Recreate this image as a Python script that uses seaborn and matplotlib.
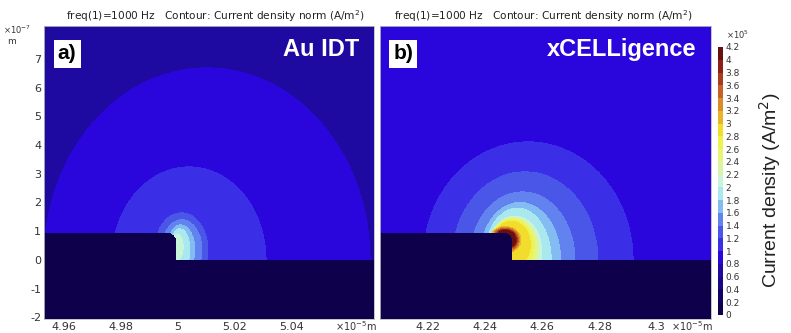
import numpy as np
import matplotlib
matplotlib.use("Agg")
import matplotlib.pyplot as plt
from matplotlib.colors import ListedColormap
import seaborn as sns

sns.set_theme(style="white")
plt.rcParams['font.family'] = ['DejaVu Sans']

# contour levels, current density norm in 1e5 A/m^2
levels = np.round(np.arange(0, 4.21, 0.2), 1)
band_colors = ['#0f004c', '#140064', '#190882', '#1e0aa0', '#2a06dc', '#3a2ee6',
               '#4a56e8', '#6282f0', '#82bcf2', '#aae8f0', '#c8f4d8', '#d8f4a8',
               '#e6f478', '#eef24c', '#f2dc2c', '#eab428', '#da8c28', '#c46028',
               '#aa3a20', '#8c2018', '#661010']

# panel a: Au IDT, contour boundaries (lengths in 1e-7 m)
a_bg = 0.7
a_level = [0.8, 1.0, 1.2, 1.4, 1.6, 1.8, 2.0]
a_cx = [501.02, 500.39, 500.12, 500.14, 500.10, 500.07, 499.98]
a_cy = [0.0, 0.0, 0.35, 0.35, 0.35, 0.35, 0.45]
a_rx = [5.72, 2.70, 0.93, 0.70, 0.49, 0.35, 0.20]
a_ry = [6.69, 3.24, 1.29, 1.05, 0.87, 0.73, 0.45]
a_edge = 499.95
a_xlim = (495.30, 506.88)
a_xticks = [496, 498, 500, 502, 504]

# panel b: xCELLigence
b_bg = 0.9
b_level = [1.0, 1.2, 1.4, 1.6, 1.8, 2.0, 2.2, 2.4, 2.6, 2.8, 3.0, 3.2, 3.4, 3.6, 3.8, 4.0]
b_cx = [425.50, 425.39, 425.30, 425.22, 425.13, 425.04, 425.00, 424.97, 424.94, 424.92,
        424.70, 424.70, 424.70, 424.70, 424.70, 424.70]
b_cy = [0.0, 0.0, 0.0, 0.0, 0.0, 0.30, 0.36, 0.42, 0.48, 0.54, 0.70, 0.70, 0.70, 0.70, 0.70, 0.70]
b_rx = [3.67, 2.55, 1.84, 1.42, 1.18, 0.94, 0.88, 0.82, 0.74, 0.66, 0.55, 0.50, 0.46, 0.42, 0.39, 0.36]
b_ry = [4.11, 3.07, 2.37, 2.00, 1.80, 1.22, 1.12, 1.02, 0.92, 0.80, 0.46, 0.43, 0.40, 0.37, 0.35, 0.33]
b_edge = 424.97
b_xlim = (420.32, 431.90)
b_xticks = [422, 424, 426, 428, 430]

ylim = (-2.06, 8.15)
yticks = [-2, -1, 0, 1, 2, 3, 4, 5, 6, 7]
el_top = 0.96      # electrode height
el_round = 0.32    # corner radius

cmap = ListedColormap(band_colors)


def field(xg, yg, bg, lev, cx, cy, rx, ry):
    z = np.full(xg.shape, bg)
    for v, x0, y0, r1, r2 in zip(lev, cx, cy, rx, ry):
        inside = ((xg - x0) / r1) ** 2 + ((yg - y0) / r2) ** 2 < 1
        z[inside] = v + 0.1
    return z


def conductor(xg, yg, edge):
    box = (xg < edge) & (yg < el_top)
    ccx, ccy = edge - el_round, el_top - el_round
    cut = (xg > ccx) & (yg > ccy) & ((xg - ccx) ** 2 + (yg - ccy) ** 2 > el_round ** 2)
    return (yg < 0) | (box & ~cut)


W, H = 791, 333
fig = plt.figure(figsize=(W / 100, H / 100), dpi=100)


def px_axes(l, t, r, b):
    return fig.add_axes([l / W, 1 - b / H, (r - l) / W, (b - t) / H])


ax_a = px_axes(44, 26, 374, 319)
ax_b = px_axes(380, 26, 711, 319)
cax = px_axes(718, 47, 723, 315)

panels = [
    (ax_a, a_xlim, a_xticks, a_bg, a_level, a_cx, a_cy, a_rx, a_ry, a_edge),
    (ax_b, b_xlim, b_xticks, b_bg, b_level, b_cx, b_cy, b_rx, b_ry, b_edge),
]
for ax, xlim, xt, bg, lev, cx, cy, rx, ry, edge in panels:
    xs = np.linspace(xlim[0], xlim[1], 1400)
    ys = np.linspace(ylim[0], ylim[1], 1200)
    xg, yg = np.meshgrid(xs, ys)
    z = field(xg, yg, bg, lev, cx, cy, rx, ry)
    z = np.ma.masked_where(conductor(xg, yg, edge), z)
    cs = ax.contourf(xg, yg, z, levels=levels, cmap=cmap, vmin=0, vmax=4.2)
    ax.set_facecolor(band_colors[0])
    ax.set_xlim(xlim)
    ax.set_ylim(ylim)
    ax.set_xticks(xt)
    ax.set_xticklabels([f"{round(v / 100, 2):g}" for v in xt])
    ax.tick_params(length=0, labelsize=8, colors='#333333', pad=2)
    for s in ax.spines.values():
        s.set_color('#bbbbbb')
        s.set_linewidth(0.6)

ax_a.set_yticks(yticks)
ax_a.set_yticklabels([str(v) for v in yticks])
ax_b.set_yticks([])

# colorbar
cb = fig.colorbar(cs, cax=cax, ticks=levels)
cb.ax.set_yticklabels([f"{v:g}" for v in levels])
cb.ax.tick_params(length=0, labelsize=6.5, colors='#333333', pad=2)
cb.outline.set_visible(False)
fig.text(726 / W, 1 - 35 / H, r"$\times10^5$", fontsize=6, color='#333333', va='center')
fig.text(770 / W, 1 - 190 / H, "Current density (A/m$^2$)", rotation=90, fontsize=14,
         family=['Liberation Sans'], color='#222222', ha='center', va='center')

# titles and axis unit labels
title = "freq(1)=1000 Hz   Contour: Current density norm (A/m$^2$)"
fig.text(215 / W, 1 - 16 / H, title, fontsize=7.6, color='#222222', ha='center', va='center')
fig.text(543 / W, 1 - 16 / H, title, fontsize=7.6, color='#222222', ha='center', va='center')
fig.text(3 / W, 1 - 30 / H, r"$\times10^{-7}$", fontsize=6, color='#333333', va='center')
fig.text(7 / W, 1 - 42 / H, "m", fontsize=6.5, color='#333333', va='center')
fig.text(356 / W, 1 - 326 / H, r"$\times10^{-5}$m", fontsize=7, color='#333333', ha='center', va='center')
fig.text(692 / W, 1 - 326 / H, r"$\times10^{-5}$m", fontsize=7, color='#333333', ha='center', va='center')

# panel tags and names
for ax, tag, name in [(ax_a, "a)", "Au IDT"), (ax_b, "b)", "xCELLigence")]:
    ax.text(0.07, 0.905, tag, transform=ax.transAxes, fontsize=15, fontweight='bold',
            family=['Liberation Sans'], color='black', ha='center', va='center',
            bbox=dict(boxstyle='square,pad=0.2', fc='white', ec='none'))
    ax.text(0.955, 0.92, name, transform=ax.transAxes, fontsize=17, fontweight='bold',
            family=['Liberation Sans'], color='white', ha='right', va='center')

fig.savefig("out.png", dpi=100)
